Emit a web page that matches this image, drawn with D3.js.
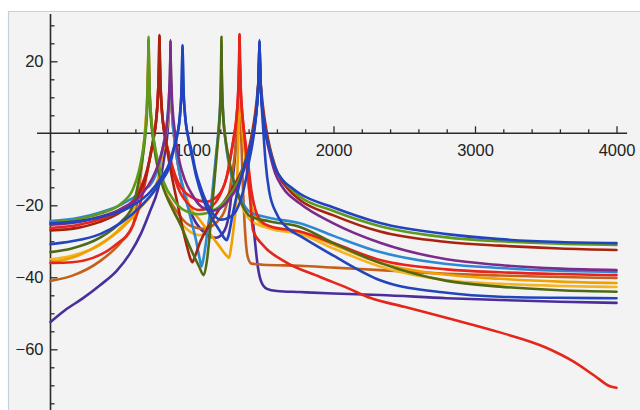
<!DOCTYPE html>
<html><head><meta charset="utf-8">
<script src="https://cdn.jsdelivr.net/npm/d3@7"></script>
<style>body{margin:0;background:#fff}svg{display:block}</style>
</head><body><svg id="c" width="640" height="410"></svg>
<script>
// ---- data ----
const xMajorTicks = [1000, 2000, 3000, 4000];
const xTickLabels = ["1000", "2000", "3000", "4000"];
const xMinorTicks = [200,400,600,800,1200,1400,1600,1800,2200,2400,2600,2800,3200,3400,3600,3800];
const yMajorTicks = [20, -20, -40, -60];
const yTickLabels = ["20", "\u221220", "\u221240", "\u221260"];
const yMinorTicks = [30,25,15,10,5,-5,-10,-15,-25,-30,-35,-45,-50,-55,-65,-70,-75];

const purpleLow = [[0,-52.4],[100,-49.2],[230,-45.8],[350,-42.2],[466,-38.3],[560,-33.5],[640,-27.8],[700,-22],[760,-15.5],[790,-10],[808,-5.5],[823,-1.5],[832,3],[838,7],[842,11],[845,15],[846.5,20],[848,25.5],[849.5,20],[851,15],[854,11],[858,7],[864,3],[874,-1],[890,-6],[912,-11],[960,-19],[1030,-25],[1100,-28],[1170,-29],[1230,-27],[1270,-20],[1290,-12],[1305,-6],[1313,-1],[1320,3],[1326,7],[1330,11],[1333,15],[1334.5,20],[1336,26],[1337.5,20],[1339,15],[1342,11],[1346,7],[1352,3],[1362,-1],[1380,-6],[1405,-14],[1425,-22],[1445,-30],[1465,-37],[1490,-41.3],[1530,-43.2],[1600,-43.8],[1763,-44.1],[2000,-44.5],[2329,-44.9],[2800,-45.8],[3176,-46.3],[3600,-46.8],[4000,-47.1]];
const brownCurve = [[0,-41],[150,-39.6],[350,-35.5],[500,-30.2],[583,-25.5],[620,-17],[645,-9],[660,-3],[670,1.5],[678,6],[684,10.5],[688,14.5],[690.5,19.5],[693,26],[695.5,19.5],[698,14.5],[702,10.5],[708,6],[717,2],[733,-3],[760,-9],[800,-15],[880,-21],[980,-25.5],[1080,-26.5],[1180,-24.5],[1250,-19],[1285,-11],[1305,-5],[1316,0],[1324,4.5],[1329,8.5],[1332,12],[1334,16],[1335,20],[1336,26.5],[1337.5,18],[1339,12],[1342,6],[1347,0],[1353,-7],[1360,-15],[1369,-23],[1380,-30],[1395,-34.5],[1420,-36.2],[1500,-36.5],[1763,-36.8],[2000,-37.3],[2329,-38],[2800,-39],[3176,-39.5],[3600,-39.9],[4000,-40.2]];
const yellowCurve = [[0,-35],[150,-34],[350,-31],[500,-26],[583,-21.5],[620,-15],[645,-8],[660,-3],[670,1.5],[678,6],[684,10.5],[688,14.5],[690.5,19.5],[693,26],[695.5,19.5],[698,14.5],[702,10.5],[708,6],[717,2],[733,-3],[760,-9],[800,-15],[880,-22.5],[960,-26.5],[1060,-28.3],[1110,-26],[1140,-19],[1160,-11],[1175,-5],[1185,-1],[1192,3],[1198,7],[1202,11],[1205,15],[1206.5,20],[1208,26],[1209.5,20],[1211,15],[1214,11],[1218,7],[1224,3],[1234,-1],[1250,-6],[1280,-12],[1330,-18],[1410,-24.1],[1551,-26.5],[1763,-28],[2000,-32],[2329,-37],[2800,-40.8],[3176,-41.8],[3600,-42.4],[4000,-42.7]];
const orangeCurve = [[0,-35.8],[150,-34.6],[350,-30.8],[500,-26.5],[650,-20],[740,-15],[770,-11],[790,-6],[808,-2],[823,1.5],[832,4],[838,7],[842,11],[845,15],[846.5,20],[848,25.5],[849.5,20],[851,15],[854,11],[858,7],[864,3],[874,-1],[890,-6],[912,-11],[950,-16.5],[986,-20.5],[1050,-23.8],[1120,-27.5],[1190,-31.2],[1240,-33.8],[1262,-34.6],[1275,-32],[1295,-26],[1310,-20],[1320,-12],[1326,-4],[1330,3],[1332.5,9],[1334,15],[1335,20],[1336,27],[1337.5,20],[1339,15],[1342,11],[1346,7],[1352,3],[1362,-1.5],[1378,-7],[1400,-15],[1430,-21.5],[1480,-24.8],[1551,-26],[1763,-27.5],[2000,-31],[2329,-36],[2800,-39.3],[3176,-40.4],[3600,-41.2],[4000,-41.6]];
const tealCurve = [[0,-24.4],[200,-23.5],[350,-22],[500,-19.8],[650,-16],[720,-13.5],[758,-10],[788,-5],[808,-1],[823,3],[832,7],[838,11],[845,15],[846.5,20],[848,25],[849.5,20],[851,15],[854,11],[858,7],[864,3],[874,-1],[890,-6],[912,-11],[950,-17],[990,-23.5],[1030,-30],[1055,-35],[1067,-37],[1080,-35],[1110,-27],[1140,-18],[1160,-10],[1175,-4],[1185,0],[1192,3.5],[1198,7],[1202,11],[1205,15],[1206.5,20],[1208,25],[1209.5,20],[1211,15],[1214,11],[1218,7],[1224,3],[1234,-1],[1250,-6],[1280,-12],[1330,-17],[1410,-21.9],[1551,-23.5],[1763,-25],[2000,-28.5],[2329,-33],[2800,-36.3],[3176,-37.4],[3600,-38.2],[4000,-38.5]];
const redFalling = [[0,-36],[150,-35.8],[300,-34.6],[450,-31.3],[583,-25.5],[650,-17],[690,-9.5],[710,-5],[730,-1],[745,3],[754,7],[760,11],[764,15],[767,20],[770,27],[773,20],[776,15],[780,11],[786,7],[795,3],[810,-1],[830,-5],[860,-10],[900,-15],[970,-19.5],[1050,-21.3],[1130,-20.5],[1200,-17],[1246,-12],[1276,-6],[1296,-1],[1311,3],[1320,7],[1326,11],[1330,15],[1333,20],[1336,27.5],[1339,20],[1342,15],[1346,11],[1352,7],[1361,3],[1376,-3],[1395,-11],[1412,-19],[1431,-26.9],[1500,-31],[1650,-35.5],[1905,-39.9],[2100,-43],[2258,-45.7],[2500,-48.2],[2823,-51.5],[3176,-55.3],[3500,-59.5],[3700,-63.5],[3850,-67.5],[3950,-70.2],[4000,-70.7]];
const redCurve = [[0,-26.3],[200,-25.4],[350,-23.9],[500,-21],[600,-17.8],[680,-10.5],[710,-5.5],[730,-1],[745,3],[754,7],[760,11],[764,15],[767,20],[770,27],[773,20],[776,15],[780,11],[786,7],[795,3],[810,-1],[830,-4.5],[860,-9],[900,-13.5],[1000,-17.8],[1100,-19],[1180,-17.5],[1246,-12],[1276,-5.5],[1296,-1],[1311,3],[1320,7],[1326,11],[1330,15],[1333,20],[1336,27.6],[1339,20],[1342,15],[1346,11],[1352,7],[1361,3],[1376,-2],[1396,-8],[1420,-16],[1450,-21.5],[1490,-24.5],[1551,-25.8],[1763,-27.3],[2000,-30.5],[2329,-35.2],[2800,-37.8],[3176,-38.6],[3600,-39.1],[4000,-39.4]];
const darkRedCurve = [[0,-27],[200,-26.2],[350,-24.6],[500,-21.8],[600,-18.5],[680,-11],[710,-5.5],[730,-1],[745,3],[754,7],[760,11],[764,15],[767,20],[770,27.3],[773,20],[776,15],[780,11],[786,7],[795,3],[810,-1],[830,-6],[860,-12.5],[900,-20],[940,-27.5],[975,-33],[990,-35],[1003,-35.8],[1020,-34.3],[1060,-30],[1130,-25],[1210,-20],[1290,-15],[1350,-10.5],[1390,-6],[1417,-1.5],[1437,3],[1451,7],[1462,11],[1470,15],[1474,20],[1477,25],[1480,20],[1484,15],[1492,11],[1503,7],[1517,3],[1537,-1.5],[1567,-6.5],[1610,-11.5],[1680,-15.5],[1763,-18.5],[2000,-22.8],[2329,-27.3],[2800,-30.2],[3176,-31.2],[3600,-32],[4000,-32.4]];
const oliveCurve = [[0,-33],[150,-32],[350,-29],[500,-24.5],[583,-20],[625,-13],[650,-7],[665,-2.5],[675,1.5],[681,5],[685,9],[688,13],[690.5,19],[693,26],[695.5,19],[698,13],[702,9],[708,5],[717,1],[733,-4],[760,-10],[800,-15.5],[850,-20],[920,-25.5],[990,-32],[1050,-37],[1083,-39.4],[1105,-35.5],[1130,-26],[1150,-17],[1168,-9],[1180,-3.5],[1190,1],[1197,5],[1201,9],[1204,13],[1206,18],[1208,26.8],[1210,18],[1212,13],[1215,9],[1220,5],[1228,1],[1242,-3],[1265,-8],[1300,-14],[1350,-19.5],[1410,-23],[1551,-24.5],[1763,-26],[2000,-30.5],[2329,-36],[2800,-41],[3176,-42.6],[3600,-43.6],[4000,-44]];
const greenCurve = [[0,-24.7],[200,-23.8],[350,-22.3],[500,-19.5],[583,-15.5],[625,-10.5],[650,-5.5],[665,-1.5],[675,2.5],[681,6],[685,10],[688,14],[690.5,19.5],[693,26.8],[695.5,19.5],[698,14],[702,10],[708,6],[717,2],[733,-2.5],[760,-8],[800,-13.5],[870,-18.5],[950,-21.5],[1050,-22.5],[1150,-21.5],[1250,-18],[1330,-13],[1377,-8],[1402,-5],[1427,-1],[1445,3],[1457,7],[1465,11],[1470,15],[1474,20],[1477,25],[1480,20],[1484,15],[1489,11],[1497,7],[1509,3],[1527,-1],[1552,-5],[1587,-9.5],[1640,-13],[1700,-15.5],[1763,-17.6],[2000,-21.6],[2329,-25.8],[2800,-28.9],[3176,-30],[3600,-30.7],[4000,-31]];
const magentaCurve = [[0,-25.4],[200,-24.6],[350,-23.2],[500,-21],[650,-16.8],[720,-12.5],[758,-9],[788,-5],[808,-1.5],[823,2.5],[832,6],[838,10],[842,14],[845,17],[846.5,21],[848,25.9],[849.5,21],[851,17],[854,14],[858,10],[864,6],[874,2],[890,-3],[912,-8],[950,-13],[1000,-17],[1070,-20.5],[1150,-21.5],[1250,-19],[1330,-14],[1377,-9],[1402,-5.5],[1427,-1.5],[1445,3],[1457,7],[1465,11],[1470,15],[1474,20],[1477,25],[1480,20],[1484,15],[1489,11],[1497,7],[1509,3],[1527,-1.5],[1552,-6],[1587,-11],[1640,-15],[1763,-19.5],[2000,-25],[2329,-30.4],[2800,-35],[3176,-36.6],[3600,-37.6],[4000,-38]];
const blueLow = [[0,-30.8],[150,-30],[350,-28],[500,-24.8],[650,-19.8],[780,-13.5],[843,-9],[868,-5],[893,-1],[910,3],[919,7],[925,11],[928,15],[930.5,20],[933,24.5],[935.5,20],[938,15],[941,11],[947,7],[956,3],[973,-1],[998,-5],[1023,-10],[1070,-16],[1127,-21],[1200,-24],[1280,-23],[1340,-19],[1380,-13],[1402,-8],[1427,-3],[1445,2],[1457,6.5],[1465,11],[1470,15],[1474,20],[1477,25.5],[1480,20],[1484,15],[1489,10],[1497,5],[1507,-1],[1520,-8],[1545,-16],[1600,-22.5],[1680,-26.5],[1763,-28.5],[2000,-34],[2329,-40.8],[2800,-44.3],[3176,-45.4],[3600,-45.7],[4000,-45.8]];
const blueTop = [[0,-25],[200,-24.4],[350,-23.3],[500,-21.6],[600,-19.6],[700,-16.5],[780,-12.5],[843,-8],[868,-4.5],[893,-1],[910,3],[919,7],[925,11],[928,15],[930.5,20],[933,24.5],[935.5,20],[938,15],[941,11],[947,7],[956,3],[973,-1],[998,-6],[1030,-12],[1080,-18.5],[1140,-23.5],[1200,-27.3],[1230,-29.2],[1244,-29.7],[1258,-28.4],[1285,-23],[1330,-15],[1370,-9],[1402,-5],[1427,-1],[1445,3],[1457,7],[1465,11],[1470,15],[1474,20],[1477,25.9],[1480,20],[1484,15],[1489,11],[1497,7],[1509,3],[1527,-1],[1552,-5],[1587,-9.5],[1640,-13],[1700,-15],[1763,-16.8],[2000,-20.6],[2329,-24.9],[2800,-28],[3176,-29.4],[3600,-30.2],[4000,-30.5]];

const seriesList = [purpleLow, brownCurve, yellowCurve, orangeCurve, tealCurve, redFalling, redCurve, darkRedCurve, oliveCurve, greenCurve, magentaCurve, blueLow, blueTop];
const seriesColors = ["#4a2e9c","#c4601c","#f3b526","#f0a000","#2d8ad2","#e4261b","#e8221c","#a8220f","#4f6a12","#5e9a1c","#7b2b8c","#2244bd","#2143c0"];

// ---- drawing ----
const svg = d3.select("#c");
const x = d3.scaleLinear().domain([0, 4000]).range([50.5, 616.5]);
const y = d3.scaleLinear().domain([0, -60]).range([133.3, 349.3]);

svg.append("rect").attr("x",0).attr("y",0).attr("width",640).attr("height",410).attr("fill","#fff");
svg.append("rect").attr("x",8).attr("y",11).attr("width",632).attr("height",399).attr("fill","#f3f3f3");
svg.append("line").attr("x1",8).attr("x2",640).attr("y1",11.5).attr("y2",11.5).attr("stroke","#c3d0de").attr("stroke-width",1.2);
svg.append("line").attr("x1",8.5).attr("x2",8.5).attr("y1",11).attr("y2",410).attr("stroke","#c3d0de").attr("stroke-width",1.2);

const axisColor = "#2a2a2a";
const fontFam = "'Liberation Sans', Arial, sans-serif";

// x axis
const gx = svg.append("g").attr("transform", `translate(0,${y(0)})`);
gx.call(d3.axisBottom(x).tickValues(xMajorTicks).tickFormat((d,i)=>xTickLabels[i]).tickSizeInner(-7).tickSizeOuter(0).tickPadding(11));
gx.select(".domain").remove();
const gxm = svg.append("g").attr("transform", `translate(0,${y(0)})`);
gxm.call(d3.axisBottom(x).tickValues(xMinorTicks).tickFormat("").tickSizeInner(-4).tickSizeOuter(0));
gxm.select(".domain").remove();
svg.append("line").attr("x1", x(-95)).attr("x2", x(4075)).attr("y1", y(0)).attr("y2", y(0)).attr("stroke", axisColor).attr("stroke-width", 1.6);

// y axis
const gy = svg.append("g").attr("transform", `translate(${x(0)},0)`);
gy.call(d3.axisLeft(y).tickValues(yMajorTicks).tickFormat((d,i)=>yTickLabels[i]).tickSizeInner(-7).tickSizeOuter(0).tickPadding(7));
gy.select(".domain").remove();
const gym = svg.append("g").attr("transform", `translate(${x(0)},0)`);
gym.call(d3.axisLeft(y).tickValues(yMinorTicks).tickFormat("").tickSizeInner(-4).tickSizeOuter(0));
gym.select(".domain").remove();
svg.append("line").attr("x1", x(0)).attr("x2", x(0)).attr("y1", 14).attr("y2", 410).attr("stroke", axisColor).attr("stroke-width", 1.6);

svg.selectAll(".tick line").attr("stroke", axisColor).attr("stroke-width", 1.3);
svg.selectAll(".tick text").attr("fill", "#222").style("font-family", fontFam).style("font-size", "16.5px");

// curves
const line = d3.line().x(d => x(d[0])).y(d => y(d[1])).curve(d3.curveMonotoneX);
svg.append("g").selectAll("path").data(seriesList).join("path")
  .attr("d", line)
  .attr("fill", "none")
  .attr("stroke", (d,i) => seriesColors[i])
  .attr("stroke-width", 2.6)
  .attr("stroke-linejoin", "round")
  .attr("stroke-linecap", "round");
</script>
</body></html>
